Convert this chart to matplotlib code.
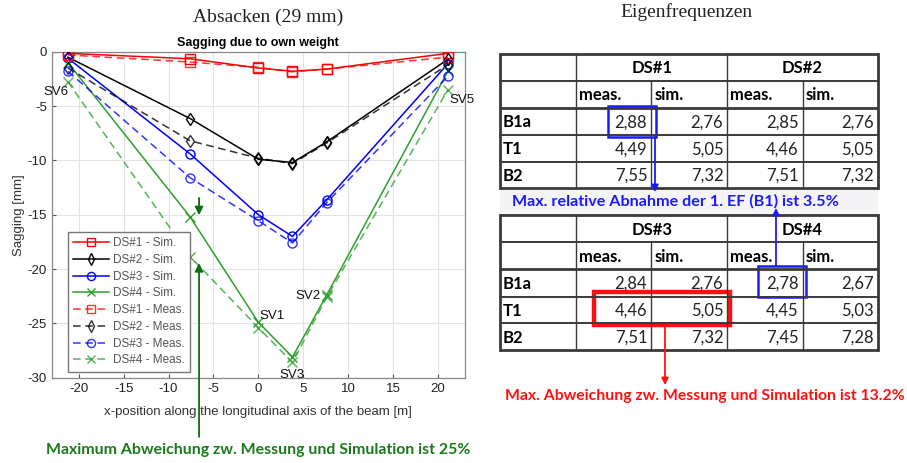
import matplotlib
matplotlib.use("Agg")
import matplotlib.pyplot as plt
from matplotlib.patches import Rectangle

plt.rcParams["axes.unicode_minus"] = False

# ---------------- data ----------------
x_pos = [-21.2, -7.6, 0.0, 3.8, 7.6, 21.1]
ds1_sim = [-0.15, -0.65, -1.5, -1.8, -1.6, -0.15]
ds2_sim = [-0.5, -6.15, -9.9, -10.2, -8.3, -0.7]
ds3_sim = [-0.6, -9.4, -15.0, -17.0, -13.65, -1.1]
ds4_sim = [-1.0, -15.2, -24.9, -28.1, -22.4, -1.8]
ds1_meas = [-0.3, -0.95, -1.45, -1.85, -1.6, -0.5]
ds2_meas = [-1.5, -8.2, -9.8, -10.3, -8.4, -1.2]
ds3_meas = [-1.8, -11.6, -15.55, -17.6, -13.9, -2.25]
ds4_meas = [-2.75, -18.85, -25.4, -28.6, -22.6, -3.5]
series_labels = ["DS#1", "DS#2", "DS#3", "DS#4"]

sv_labels = ["SV6", "SV5", "SV1", "SV2", "SV3"]
sv_pos = [(-23.9, -3.7), (21.3, -4.45), (0.1, -24.3), (6.9, -22.45), (3.7, -29.75)]
sv_ha = ["left", "left", "left", "right", "center"]

modes = ["B1a", "T1", "B2"]
ds_names = ["DS#1", "DS#2", "DS#3", "DS#4"]
freq_meas = [[2.88, 4.49, 7.55], [2.85, 4.46, 7.51], [2.84, 4.46, 7.51], [2.78, 4.45, 7.45]]
freq_sim = [[2.76, 5.05, 7.32], [2.76, 5.05, 7.32], [2.76, 5.05, 7.32], [2.67, 5.03, 7.28]]

# ---------------- figure ----------------
fig = plt.figure(figsize=(9.07, 4.63), dpi=100)

narrow = "Lato"
sans = "Liberation Sans"
serif = "Liberation Serif"

W, H = 907, 463
ax = fig.add_axes([51.7 / W, 1 - 377.7 / H, (465 - 51.7) / W, (377.7 - 51.7) / H])

green = "#2ea02e"
colors = ["#ff0000", "#000000", "#0000ff", green]
markers = ["s", "d", "o", "x"]
sims = [ds1_sim, ds2_sim, ds3_sim, ds4_sim]
meass = [ds1_meas, ds2_meas, ds3_meas, ds4_meas]

for lab, c, m, ys in zip(series_labels, colors, markers, sims):
    ax.plot(x_pos, ys, color=c, marker=m, mfc="none", ms=6.5, lw=1.1,
            label=f"{lab} - Sim.", zorder=3)
for lab, c, m, ys in zip(series_labels, colors, markers, meass):
    ax.plot(x_pos, ys, color=c, marker=m, mfc="none", ms=6.5, lw=1.1, ls=(0, (5, 3)),
            alpha=0.8, label=f"{lab} - Meas.", zorder=3)

ax.set_xlim(-23, 23)
ax.set_ylim(-30, 0)
ax.set_xticks(range(-20, 21, 5))
ax.set_yticks(range(-30, 1, 5))
ax.grid(True, color="#e3e3e3", lw=0.8)
ax.set_axisbelow(True)
for s in ax.spines.values():
    s.set_color("#888888")
    s.set_linewidth(0.9)
ax.tick_params(direction="in", length=3, colors="#555555", labelcolor="#222222",
               labelsize=9.5)
for t in ax.get_xticklabels() + ax.get_yticklabels():
    t.set_family(sans)
ax.set_xlabel("x-position along the longitudinal axis of the beam [m]",
              family=sans, fontsize=9.5, color="#333333", labelpad=8)
ax.set_ylabel("Sagging [mm]", family=sans, fontsize=9.5, color="#333333", labelpad=2)
ax.set_title("Sagging due to own weight", family=sans, fontsize=9, fontweight="bold",
             pad=4)

for lab, (px, py), ha in zip(sv_labels, sv_pos, sv_ha):
    ax.text(px, py, lab, family=sans, fontsize=9.5, color="#111111",
            ha=ha, va="center", clip_on=False)

leg = ax.legend(loc="upper left", bbox_to_anchor=(0.025, 0.465),
                prop={"family": sans, "size": 8.5}, labelspacing=0.4,
                handlelength=3.0, handletextpad=0.4, borderpad=0.45,
                fancybox=False, framealpha=1, edgecolor="#777777", markerscale=0.9)
for t in leg.get_texts():
    t.set_color("#555555")

# green arrows
dgreen = "#0d6e0d"
ax.annotate("", xy=(-6.6, -15.3), xytext=(-6.6, -13.2),
            arrowprops=dict(arrowstyle="-|>", color=dgreen, lw=1.3, mutation_scale=12))
ax.annotate("", xy=(-6.6, -19.2), xytext=(-6.6, -35.7), annotation_clip=False,
            arrowprops=dict(arrowstyle="-|>", color=dgreen, lw=1.3, mutation_scale=12))

# ---------------- overlay (pixel coords) ----------------
ov = fig.add_axes([0, 0, 1, 1], zorder=5)
ov.set_xlim(0, W)
ov.set_ylim(H, 0)
ov.axis("off")
ov.patch.set_alpha(0)

ov.text(268, 17, "Absacken (29 mm)", family=serif, fontsize=14, ha="center",
        va="center", color="#222222")
ov.text(686, 12, "Eigenfrequenzen", family=serif, fontsize=14, ha="center",
        va="center", color="#222222")
ov.text(258, 450, "Maximum Abweichung zw. Messung und Simulation ist 25%",
        family=narrow, fontweight="bold", fontsize=11.4, color="#1a7a1a",
        ha="center", va="center")

cols = [500, 576, 651.3, 727.3, 802.7, 877.7]
rows_top = [54, 80.7, 107.7, 135, 161.7, 188.3]
rows_bot = [215, 242.3, 269.3, 296.7, 323.3, 350]
lc = "#3a3a3a"
tfs = 12


def draw_table(rows, ds_idx):
    for i, y in enumerate(rows):
        lw = 2.0 if i in (0, len(rows) - 1, 2) else 1.4
        ov.plot([cols[0], cols[-1]], [y, y], color=lc, lw=lw, solid_capstyle="butt")
    for j, x in enumerate(cols):
        if j in (2, 4):
            ov.plot([x, x], [rows[1], rows[-1]], color=lc, lw=1.0)
        else:
            ov.plot([x, x], [rows[0], rows[-1]], color=lc, lw=2.0 if j in (0, 5) else 1.0)
    for k, d in enumerate(ds_idx):
        xc = (cols[1 + 2 * k] + cols[3 + 2 * k]) / 2
        ov.text(xc, (rows[0] + rows[1]) / 2 + 1, ds_names[d], family=narrow,
                fontweight="bold", fontsize=tfs, ha="center", va="center")
        ov.text(cols[1 + 2 * k] + 3, (rows[1] + rows[2]) / 2 + 1, "meas.", family=narrow,
                fontweight="bold", fontsize=tfs, ha="left", va="center")
        ov.text(cols[2 + 2 * k] + 3, (rows[1] + rows[2]) / 2 + 1, "sim.", family=narrow,
                fontweight="bold", fontsize=tfs, ha="left", va="center")
        for r in range(len(modes)):
            yc = (rows[2 + r] + rows[3 + r]) / 2 + 1
            ov.text(cols[2 + 2 * k] - 4, yc, f"{freq_meas[d][r]:.2f}".replace(".", ","),
                    family=narrow, fontsize=tfs, ha="right", va="center", color="#222222")
            ov.text(cols[3 + 2 * k] - 4, yc, f"{freq_sim[d][r]:.2f}".replace(".", ","),
                    family=narrow, fontsize=tfs, ha="right", va="center", color="#222222")
    for r, mname in enumerate(modes):
        yc = (rows[2 + r] + rows[3 + r]) / 2 + 1
        ov.text(cols[0] + 3, yc, mname, family=narrow, fontweight="bold", fontsize=tfs,
                ha="left", va="center")


ov.add_patch(Rectangle((cols[0], rows_top[-1]), cols[-1] - cols[0],
                       rows_bot[0] - rows_top[-1], facecolor="#f5f5f8",
                       edgecolor="none", zorder=0))
draw_table(rows_top, [0, 1])
draw_table(rows_bot, [2, 3])

blue = "#1a1aff"
ov.add_patch(Rectangle((608.3, 106), 47.4, 31.3, fill=False, edgecolor=blue, lw=1.8))
ov.annotate("", xy=(655, 192), xytext=(655, 137.3),
            arrowprops=dict(arrowstyle="-|>", color=blue, lw=1.3, mutation_scale=10,
                            shrinkA=0, shrinkB=0))
ov.add_patch(Rectangle((757.7, 265.7), 48.3, 31.6, fill=False, edgecolor=blue, lw=1.8))
ov.annotate("", xy=(776, 208), xytext=(776, 265.7),
            arrowprops=dict(arrowstyle="-|>", color=blue, lw=1.3, mutation_scale=10,
                            shrinkA=0, shrinkB=0))
ov.text(675, 201.5, "Max. relative Abnahme der 1. EF (B1) ist 3.5%", family=narrow,
        fontweight="bold", fontsize=11.6, color=blue, ha="center", va="center")

red = "#ff1010"
ov.add_patch(Rectangle((594.3, 292.3), 135.7, 32.7, fill=False, edgecolor=red, lw=3.2))
ov.annotate("", xy=(665, 385), xytext=(665, 325),
            arrowprops=dict(arrowstyle="-|>", color=red, lw=1.3, mutation_scale=10,
                            shrinkA=0, shrinkB=0))
ov.text(705, 396, "Max. Abweichung zw. Messung und Simulation ist 13.2%", family=narrow,
        fontweight="bold", fontsize=11.3, color=red, ha="center", va="center")

fig.savefig("out.png", dpi=100)
